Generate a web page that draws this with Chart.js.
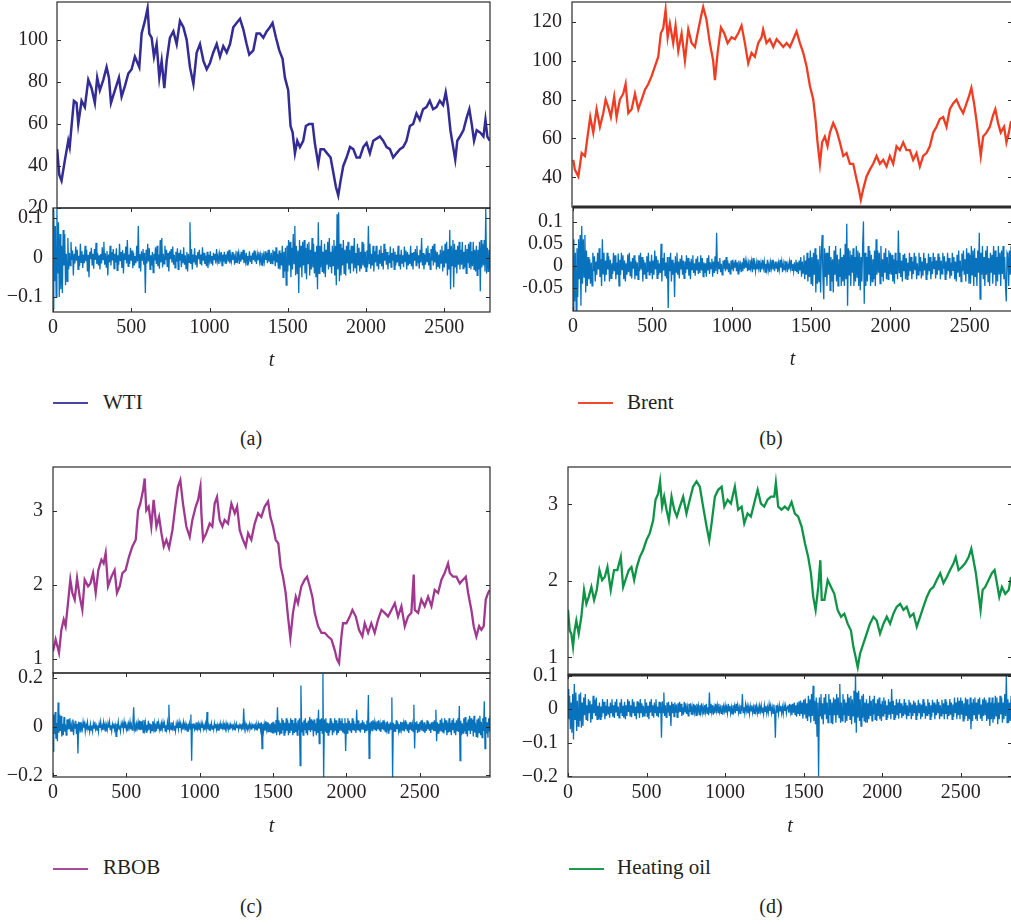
<!DOCTYPE html>
<html><head><meta charset="utf-8">
<script src="https://cdn.jsdelivr.net/npm/chart.js@4.4.1/dist/chart.umd.min.js"></script>
<style>
html,body{margin:0;padding:0;background:#fff;width:1011px;height:924px;overflow:hidden;position:relative;}
canvas{position:absolute;left:0;top:0;}
.lt{position:absolute;font-family:"Liberation Serif","Times New Roman",Tinos,"DejaVu Serif",serif;font-size:21px;line-height:21px;color:#231f20;white-space:nowrap;}
.ll{position:absolute;width:35px;height:2px;}
.cap{position:absolute;width:60px;text-align:center;font-family:"Liberation Serif","Times New Roman",Tinos,"DejaVu Serif",serif;font-size:20px;line-height:20px;color:#231f20;}
</style></head><body>
<div class="ll" style="left:53px;top:402px;background:#4b43a8"></div><div class="lt" style="left:103px;top:392px">WTI</div>
<div class="ll" style="left:578px;top:402px;background:#ef4a30"></div><div class="lt" style="left:627px;top:392px">Brent</div>
<div class="ll" style="left:53px;top:868px;background:#a64a9c"></div><div class="lt" style="left:103px;top:857px">RBOB</div>
<div class="ll" style="left:569px;top:868px;background:#1c9a50"></div><div class="lt" style="left:617px;top:857px">Heating oil</div>
<div class="cap" style="left:221px;top:428px">(a)</div>
<div class="cap" style="left:741px;top:428px">(b)</div>
<div class="cap" style="left:221px;top:896px">(c)</div>
<div class="cap" style="left:741px;top:896px">(d)</div>
<script>
// ---------------- DATA ----------------
const RET_STEP = 5; // t spacing of the return samples (first sample at t = 0)
const xTicks = [0, 500, 1000, 1500, 2000, 2500];

// WTI price
const wtiT = [25,38,53,75,96,105,117,132,149,160,181,202,224,245,266,281,298,320,341,356,369,394,420,437,458,480,501,522,550,565,586,603,614,629,644,661,678,693,710,725,746,768,789,810,832,853,874,896,917,938,960,981,1002,1023,1045,1066,1087,1109,1130,1151,1172,1194,1215,1236,1253,1279,1300,1321,1343,1364,1385,1402,1424,1445,1466,1481,1502,1517,1530,1545,1560,1577,1598,1615,1636,1658,1672,1694,1709,1730,1751,1773,1790,1807,1822,1837,1854,1875,1897,1918,1939,1960,1982,2003,2024,2046,2067,2088,2109,2131,2152,2173,2194,2216,2237,2258,2280,2301,2322,2343,2364,2386,2407,2428,2450,2471,2492,2509,2524,2539,2552,2570,2583,2600,2622,2643,2660,2675,2690,2707,2728,2750,2763,2775,2790];
const wtiP = [48,36,33,43,52,49,59,71,70,60,71,68,81,77,70,82,76,81,87,82,70,76,82,73,78,84,86,92,87,103,109,115,103,101,92,98,82,90,77,90,101,104,98,109,106,100,87,79,94,98,90,86,89,94,98,92,97,94,98,106,108,110,105,98,93,95,103,103,101,104,106,108,101,95,91,82,76,59,56,46,52,49,52,59,60,60,51,41,48,48,46,44,37,30,26,33,40,44,49,48,44,44,49,51,46,52,53,54,52,49,48,44,46,48,49,52,59,60,65,62,67,68,71,67,68,71,69,75,68,57,51,43,52,54,57,63,67,60,52,57,56,54,62,54,52];
const wtiTicks = [20, 40, 60, 80, 100];

// Brent price
const brentT = [0,10,32,53,74,90,107,126,147,168,189,204,221,237,258,273,294,315,330,347,368,389,410,431,452,473,494,515,536,552,567,582,595,609,630,645,662,683,704,725,746,767,784,805,819,840,861,882,893,910,931,952,973,998,1019,1040,1061,1082,1103,1124,1145,1166,1187,1197,1218,1239,1261,1282,1303,1324,1345,1366,1387,1408,1429,1450,1471,1492,1513,1527,1540,1555,1569,1586,1603,1618,1639,1660,1681,1702,1723,1744,1765,1786,1800,1813,1828,1849,1870,1891,1912,1933,1954,1975,1996,2017,2038,2059,2080,2101,2122,2143,2164,2185,2206,2227,2248,2269,2290,2311,2332,2353,2374,2395,2416,2437,2458,2479,2496,2510,2527,2544,2557,2569,2584,2605,2626,2647,2661,2678,2695,2716,2731,2746,2760];
const brentP = [49,44,40.5,52.5,51,61,71,63,75,66,73,80,76,71,81.5,71,80,83,88,73,75,83,75,80,85,88,92,97,102,114,116.5,126,112,119,109,118,105,114,100,116,109,107,114,122.5,127.5,121,109,100,90,104,117,114,109,112,111,114,118,109,98.6,104,102,109,112,116,109,111,107,111,109,107,109,107,111,115,109,104,97,87,80,70,58,47,58,61,56,63,68,64,58,51,52.5,47,47,39,34,28.5,34,40.5,44,47,51,47,49,45.6,51,47,56,54,58,54,54,49,52.5,45.6,51,52.5,56,63,66,70,71,66,75,78,80,76,73,78,82,86,78,68,59,51,61,63,66,72,75,68,63,66,58,63,69];
const brentTicks = [40, 60, 80, 100, 120];

// RBOB price
const rbobT = [0,18,41,57,73,86,102,118,132,148,164,182,200,216,239,255,273,291,309,330,345,359,375,398,420,436,455,473,495,518,541,564,580,595,614,625,636,652,670,686,705,723,739,755,773,791,814,836,852,868,886,909,932,950,973,989,1005,1012,1023,1045,1068,1086,1102,1118,1136,1155,1170,1193,1216,1239,1255,1273,1295,1314,1330,1352,1375,1398,1420,1443,1466,1482,1500,1518,1536,1552,1568,1586,1602,1618,1636,1655,1670,1693,1716,1732,1750,1768,1784,1807,1830,1852,1875,1898,1920,1936,1950,1966,1977,2000,2023,2041,2064,2086,2109,2125,2148,2170,2193,2216,2239,2261,2284,2307,2330,2352,2375,2398,2420,2443,2459,2466,2489,2511,2534,2557,2580,2602,2625,2648,2670,2693,2705,2727,2750,2773,2795,2814,2830,2852,2868,2886,2905,2920,2936,2950,2966,2977];
const rbobP = [1.1,1.26,1.08,1.39,1.53,1.44,1.75,2.07,1.89,1.8,2.09,1.84,1.66,2.07,1.98,2.02,2.16,1.89,2.2,2.34,2.29,2.43,1.98,2.11,2.2,1.89,1.98,2.16,2.2,2.38,2.52,2.61,3.01,3.1,3.28,3.44,3.01,3.06,2.79,3.15,2.79,2.92,2.7,2.52,2.61,2.5,2.74,3.1,3.33,3.42,3.1,2.79,2.65,2.88,3.06,3.15,3.33,2.95,2.61,2.7,2.83,2.79,3.1,3.19,2.88,2.79,2.88,2.83,3.1,2.97,3.06,2.74,2.61,2.52,2.7,2.61,2.83,2.97,2.92,3.06,3.13,2.92,2.79,2.61,2.56,2.25,2.11,1.89,1.57,1.28,1.62,1.84,1.75,1.98,2.07,2.11,1.98,1.84,1.62,1.44,1.35,1.35,1.3,1.26,1.12,0.99,0.94,1.3,1.48,1.48,1.57,1.66,1.57,1.39,1.3,1.48,1.35,1.48,1.35,1.53,1.66,1.62,1.57,1.66,1.75,1.57,1.71,1.44,1.57,1.62,2.14,1.66,1.62,1.8,1.71,1.84,1.71,1.93,1.89,2.07,2.16,2.29,2.16,2.11,2.11,2.02,2.07,2.11,1.89,1.66,1.44,1.3,1.44,1.39,1.44,1.8,1.89,1.93];
const rbobTicks = [1, 2, 3];

// Heating oil price
const heatT = [0,11,21,32,42,53,68,85,102,117,132,149,166,183,200,217,234,251,272,293,314,336,351,372,387,404,421,438,457,478,499,520,542,557,574,586,599,612,627,642,659,676,693,712,733,754,775,796,818,839,860,882,899,914,935,956,978,995,1016,1037,1062,1083,1105,1122,1143,1164,1185,1207,1228,1249,1270,1292,1313,1323,1338,1359,1380,1401,1423,1444,1465,1487,1508,1529,1546,1561,1576,1593,1606,1615,1632,1653,1674,1695,1716,1738,1759,1780,1801,1816,1831,1844,1859,1880,1901,1922,1944,1965,1986,2008,2029,2050,2071,2092,2114,2135,2156,2177,2199,2220,2241,2262,2284,2305,2326,2347,2369,2390,2411,2432,2454,2468,2486,2507,2528,2550,2567,2581,2596,2613,2626,2639,2656,2677,2698,2715,2730,2745,2762,2783,2805,2820];
const heatP = [1.62,1.35,1.31,1.14,1.35,1.48,1.31,1.53,1.88,1.7,1.79,1.92,1.75,1.88,2.14,2.01,2.05,2.18,1.88,2.14,2.14,2.31,1.92,2.05,2.14,2.18,2.01,2.18,2.31,2.4,2.53,2.62,2.79,3.06,3.14,3.3,2.97,3.1,2.93,2.79,3.1,2.93,2.84,2.97,3.1,2.88,3.06,3.23,3.3,3.23,2.97,2.71,2.53,2.75,3.1,3.19,3.23,2.97,3.06,3.01,3.23,2.93,2.97,2.75,2.88,2.84,3.01,3.19,3.01,2.97,3.06,3.1,3.1,3.28,2.97,2.93,2.97,2.93,3.03,2.88,2.84,2.71,2.49,2.31,2.1,1.79,1.62,1.92,2.27,1.75,1.75,2.01,1.92,1.83,1.62,1.53,1.57,1.44,1.35,1.14,1.0,0.87,1.05,1.18,1.31,1.44,1.53,1.48,1.31,1.44,1.53,1.44,1.57,1.66,1.7,1.62,1.66,1.53,1.57,1.4,1.53,1.66,1.79,1.88,1.92,2.01,2.1,1.97,2.05,2.14,2.23,2.31,2.14,2.18,2.23,2.31,2.42,2.27,2.1,1.83,1.62,1.88,1.92,2.01,2.1,2.14,1.97,1.79,1.92,1.83,1.88,2.05];
const heatTicks = [1, 2, 3];

// Returns, one row per 100 of t
const wtiR = [
-.13,.12,-.06,.08,-.1,.125,-.04,.09,-.1,.06,-.08,.03,-.09,.07,-.02,.06,-.07,.01,-.06,.05,
-.03,.012,-.02,.04,-.006,.018,-.045,.01,-.015,.028,-.008,.02,-.03,.005,-.022,.035,-.012,.016,-.026,.008,
-.014,.03,-.009,.02,-.035,.007,-.05,.015,-.004,.025,-.018,.01,-.028,.022,-.006,.038,-.016,.012,-.02,.006,
-.03,.009,-.015,.026,-.005,.04,-.018,.011,-.024,.017,-.045,.008,-.012,.03,-.02,.014,-.007,.022,-.028,.01,
-.012,.024,-.032,.006,-.018,.035,-.009,.014,-.026,.019,-.04,.011,-.006,.028,-.015,.045,-.022,.008,-.016,.025,
-.008,.018,-.027,.012,-.02,.004,-.014,.03,-.01,.08,-.025,.009,-.035,.016,-.006,.022,-.018,.012,-.09,.02,
-.015,.035,-.01,.024,-.03,.006,-.02,.014,-.038,.01,-.007,.026,-.016,.03,-.022,.008,-.028,.045,-.012,.05,
-.025,.01,-.016,.03,-.006,.02,-.024,.012,-.035,.016,-.004,.022,-.012,.028,-.018,.007,-.026,.015,-.01,.024,
-.03,.012,-.008,.02,-.024,.009,-.014,.026,-.018,.006,-.028,.014,-.035,.01,-.012,.09,-.016,.022,-.03,.008,
-.012,.024,-.018,.006,-.025,.014,-.004,.02,-.015,.008,-.02,.026,-.008,.012,-.016,.005,-.022,.015,-.026,.007,
-.008,.016,-.014,.004,-.02,.012,-.005,.01,-.015,.022,-.009,.005,-.016,.01,-.004,.014,-.02,.008,-.01,.015,
-.014,.008,-.005,.016,-.01,.02,-.015,.004,-.009,.014,-.006,.01,-.018,.005,-.012,.016,-.004,.011,-.016,.006,
-.01,.015,-.005,.02,-.014,.006,-.01,.012,-.018,.004,-.007,.016,-.01,.005,-.016,.012,-.006,.018,-.01,.004,
-.016,.01,-.005,.015,-.01,.006,-.018,.012,-.022,.005,-.01,.016,-.006,.012,-.014,.02,-.01,.006,-.016,.012,
-.015,.02,-.008,.016,-.022,.026,-.012,.01,-.028,.018,-.03,.012,-.02,.03,-.05,.015,-.035,.025,-.07,.03,
-.035,.045,-.02,.04,-.05,.025,-.03,.06,-.015,.08,-.045,.03,-.04,.018,-.09,.045,-.025,.03,-.05,.04,
-.02,.045,-.04,.025,-.055,.035,-.015,.04,-.045,.02,-.03,.05,-.025,.035,-.04,.015,-.05,.03,-.08,.09,
-.04,.03,-.025,.045,-.035,.015,-.04,.035,-.05,.02,-.018,.04,-.03,.05,-.022,.015,-.04,.03,-.02,.045,
-.045,.03,-.07,.11,-.03,.115,-.06,.035,-.045,.025,-.02,.045,-.04,.02,-.045,.03,-.015,.04,-.03,.02,
-.04,.03,-.015,.03,-.035,.05,-.025,.012,-.04,.035,-.018,.025,-.035,.015,-.028,.04,-.02,.035,-.025,.015,
-.035,.018,-.025,.08,-.015,.035,-.028,.01,-.02,.03,-.035,.016,-.012,.03,-.022,.008,-.03,.02,-.014,.03,
-.022,.012,-.03,.035,-.008,.022,-.018,.014,-.03,.006,-.014,.028,-.024,.012,-.008,.024,-.03,.015,-.02,.008,
-.012,.03,-.022,.008,-.03,.02,-.014,.006,-.024,.028,-.01,.018,-.03,.014,-.02,.008,-.016,.03,-.022,.012,
-.03,.014,-.008,.022,-.02,.03,-.014,.006,-.028,.02,-.012,.05,-.02,.012,-.03,.008,-.018,.024,-.01,.03,
-.02,.012,-.03,.022,-.008,.03,-.02,.035,-.012,.018,-.03,.014,-.022,.008,-.028,.02,-.014,.03,-.035,.018,
-.025,.035,-.015,.04,-.045,.022,-.03,.07,-.08,.03,-.02,.045,-.075,.035,-.025,.02,-.04,.03,-.018,.04,
-.03,.02,-.018,.04,-.028,.015,-.025,.032,-.04,.022,-.014,.035,-.026,.04,-.03,.016,-.022,.04,-.03,.02,
-.035,.03,-.045,.02,-.03,.04,-.085,.045,-.025,.035,-.02,.045,-.035,.125,-.04,.025,-.035,.02,-.03,.04];
const wtiRTicks = [-0.1, 0, 0.1];

const brentR = [
-.1,.06,-.08,.03,-.1,.04,-.07,.06,-.03,.07,-.09,.09,-.04,.06,-.025,.07,-.06,.035,-.045,.02,
-.03,.015,-.04,.008,-.045,.03,-.012,.022,-.035,.01,-.02,.03,-.008,.04,-.025,.015,-.045,.06,-.018,.03,
-.035,.012,-.02,.03,-.008,.022,-.035,.014,-.028,.006,-.018,.03,-.012,.024,-.03,.008,-.02,.028,-.045,.014,
-.02,.03,-.008,.024,-.03,.012,-.035,.006,-.02,.026,-.014,.03,-.022,.01,-.028,.018,-.006,.024,-.03,.012,
-.022,.008,-.03,.024,-.012,.03,-.008,.02,-.035,.014,-.02,.008,-.028,.022,-.014,.03,-.02,.01,-.016,.025,
-.03,.012,-.02,.035,-.008,.022,-.028,.014,-.02,.006,-.016,.05,-.035,.018,-.01,.03,-.022,.008,-.028,.02,
-.095,.02,-.012,.03,-.035,.014,-.02,.008,-.07,.022,-.014,.03,-.02,.01,-.028,.016,-.008,.024,-.02,.012,
-.028,.01,-.016,.024,-.008,.018,-.022,.01,-.03,.016,-.008,.024,-.016,.006,-.022,.016,-.01,.022,-.018,.008,
-.016,.024,-.01,.018,-.024,.008,-.016,.006,-.024,.018,-.01,.024,-.018,.008,-.006,.016,-.024,.01,-.016,.022,
-.012,.075,-.018,.01,-.006,.018,-.014,.005,-.02,.012,-.006,.014,-.012,.02,-.008,.012,-.014,.006,-.018,.012,
-.008,.014,-.012,.006,-.004,.014,-.012,.008,-.018,.012,-.006,.004,-.014,.008,-.012,.018,-.006,.012,-.004,.01,
-.012,.006,-.008,.014,-.004,.01,-.014,.018,-.008,.004,-.012,.008,-.006,.014,-.004,.012,-.014,.006,-.008,.014,
-.004,.01,-.014,.005,-.008,.014,-.01,.004,-.014,.008,-.005,.014,-.008,.004,-.012,.01,-.005,.01,-.014,.006,
-.008,.014,-.004,.01,-.014,.005,-.008,.012,-.005,.01,-.014,.004,-.008,.01,-.005,.014,-.01,.004,-.012,.008,
-.01,.014,-.014,.008,-.018,.012,-.01,.02,-.024,.01,-.016,.024,-.03,.012,-.02,.03,-.035,.018,-.025,.035,
-.04,.02,-.045,.03,-.02,.04,-.06,.025,-.04,.015,-.035,.045,-.06,.03,.07,-.03,-.075,.04,-.025,.03,
-.045,.03,-.02,.045,-.055,.02,-.035,.015,-.06,.035,-.02,.045,-.035,.025,-.045,.015,-.025,.04,-.045,.02,
-.035,.025,-.045,.05,-.03,.095,-.09,.04,-.02,.035,-.045,.025,-.015,.04,-.045,.02,-.035,.045,-.025,.035,
-.045,.03,-.055,.02,-.035,.045,.1,-.085,.03,-.045,.02,-.035,.045,-.02,.035,-.045,.025,-.035,.015,-.03,
.035,-.045,.06,-.02,.035,-.015,.03,-.04,.045,-.025,.015,-.035,.03,-.015,.04,-.03,.02,-.03,.035,-.018,
.03,-.02,.025,-.035,.015,-.04,.03,-.018,.012,-.03,.08,-.015,.03,-.025,.012,-.035,.025,-.012,.028,-.03,
.018,-.03,.008,-.022,.03,-.012,.02,-.03,.01,-.018,.03,-.008,.022,-.03,.006,-.02,.03,-.012,.02,-.028,
.01,-.022,.03,-.01,.018,-.03,.006,-.02,.028,-.012,.02,-.03,.01,-.018,.03,-.006,.02,-.028,.012,-.02,
.028,-.01,.02,-.03,.012,-.018,.03,-.006,.022,-.03,.01,-.02,.03,-.012,.018,-.028,.008,-.022,.03,-.01,
.02,-.03,.01,-.035,.025,-.015,.035,-.025,.012,-.035,.028,-.012,.035,-.02,.015,-.035,.04,-.018,.03,-.04,
.025,-.04,.045,-.02,.035,-.045,.04,-.025,.018,-.045,.035,-.015,.075,-.075,.03,-.02,.045,-.03,.02,-.045,
.035,-.02,.045,-.035,.018,-.045,.03,-.015,.025,-.04,.045,-.02,.035,-.045,.02,-.035,.045,-.018,.03,-.045,
.035,-.018,.045,-.03,.02,-.045,-.08,.03,.025,-.045,.035,-.02,.045,-.03];
const brentRTicks = [-0.05, 0, 0.05, 0.1];

const rbobR = [
-.1,.05,-.03,.06,-.05,.015,-.06,.1,-.025,.05,-.018,.045,-.04,.012,-.035,.04,-.02,.01,-.035,.03,
-.012,.03,-.008,.035,-.02,.006,-.018,.03,-.035,.01,-.006,.024,-.03,.012,-.11,.02,-.008,.018,-.024,.006,
-.01,.02,-.004,.012,-.02,.008,-.005,.018,-.012,.004,-.02,.01,-.014,.005,-.018,.012,-.006,.02,-.01,.004,
-.014,.006,-.02,.012,-.005,.02,-.01,.004,-.014,.018,-.006,.01,-.02,.005,-.012,.014,-.004,.02,-.012,.006,
-.018,.01,-.005,.014,-.012,.004,-.04,.012,-.006,.02,-.01,.005,-.018,.012,-.004,.014,-.012,.02,-.006,.01,
-.012,.006,-.018,.012,-.004,.02,-.01,.005,-.014,.018,.08,-.01,.006,-.02,.012,-.005,.018,-.012,.025,-.014,
.022,-.012,.01,-.024,.028,-.008,.016,-.022,.008,-.018,.024,-.01,.014,-.028,.01,-.016,.022,-.008,.015,-.024,
.01,-.018,.022,-.008,.016,-.012,.005,-.018,.012,-.008,.018,-.005,.012,-.018,.006,-.012,.018,-.01,.09,-.01,
.006,-.012,.018,-.005,.012,-.014,.004,-.018,.012,-.006,.014,-.01,.018,-.005,.012,-.014,.006,-.012,.018,-.004,
.012,-.014,.005,-.018,.012,-.006,.014,-.01,.05,-.14,.012,-.005,.014,-.01,.006,-.012,.018,-.006,.012,-.014,
.006,-.012,.014,-.005,.012,-.01,.004,-.014,.012,-.006,.06,-.01,.005,-.014,.012,-.006,.014,-.01,.005,-.012,
.014,-.005,.012,-.012,.006,-.014,.012,-.004,.014,-.01,.005,-.006,.014,-.012,.006,-.01,.014,-.005,.008,-.012,
.006,-.012,.008,-.005,.012,-.008,.004,-.012,.008,-.006,.012,-.004,.008,-.012,.006,-.006,.012,-.008,.004,-.012,
.075,-.006,.012,-.008,.006,-.012,.004,-.008,.012,-.006,.008,-.012,.006,-.004,.012,-.008,.006,-.012,.008,-.006,
.012,-.006,.014,-.012,.018,-.09,.012,-.018,.01,-.016,.022,-.01,.018,-.024,.014,-.022,.01,-.024,.016,-.028,
.02,-.028,.012,-.022,.028,-.035,.08,-.018,.026,-.035,.016,-.026,.035,-.014,.026,-.035,.016,-.026,.035,-.016,
.026,-.035,.014,-.026,.035,-.016,.028,-.035,.014,-.026,.035,-.022,.016,-.035,.026,-.014,.035,-.16,.17,-.024,
.018,-.035,.026,-.014,.035,-.024,.016,-.035,.024,-.014,.04,-.022,.03,-.014,.024,-.04,.03,-.018,.014,-.035,
.035,-.026,.07,-.07,.03,-.018,.035,-.026,.22,-.21,.03,-.018,.035,-.026,.016,-.035,.014,-.024,.035,-.014,
.024,-.035,.014,-.024,.035,-.016,.026,-.035,.014,-.026,.035,-.016,.024,-.014,.035,-.024,.014,-.026,.035,-.1,
.016,-.026,.035,-.014,.024,-.016,.014,-.026,.035,-.014,.024,-.016,.012,-.026,.07,-.014,.026,-.016,.012,-.024,
.016,-.012,.026,-.01,.018,-.026,.01,-.016,.026,-.012,.13,-.13,.016,-.01,.022,-.016,.026,-.01,.018,-.014,
.01,-.018,.022,-.01,.026,-.016,.01,-.022,.018,-.01,.026,-.014,.01,-.02,.018,-.01,.022,-.026,.012,-.016,
.018,-.01,.12,-.21,.016,-.018,.01,-.022,.026,-.01,.018,-.016,.01,-.026,.02,-.01,.018,-.016,.012,-.02,
.026,-.01,.018,-.016,.01,-.026,.018,-.01,.02,-.016,.01,-.02,.09,-.09,.018,-.01,.022,-.026,.012,-.018,
.018,-.012,.026,-.016,.01,-.02,.018,-.026,.01,-.018,.026,-.01,.02,-.016,.012,-.026,.018,-.01,.02,-.018,
.026,-.016,.07,-.06,.018,-.026,.012,-.02,.028,-.016,.035,-.024,.016,-.028,.035,-.014,.026,-.035,.016,-.024,
.035,-.022,.016,-.035,.026,-.014,.035,-.024,.016,-.035,.026,-.016,.035,-.022,.085,-.14,.024,-.035,.014,-.026,
.035,-.02,.04,-.03,.018,-.04,.03,-.016,.045,-.03,.035,-.016,.028,-.04,.045,-.024,.016,-.04,.03,-.045,
.035,-.024,.045,-.035,.02,-.045,.035,-.018,.105,-.09,.04,-.028,.018,-.045,.035,-.02,.045,-.035,.024,-.035];
const rbobRTicks = [-0.2, 0, 0.2];

const heatR = [
.06,-.03,.04,-.06,.02,-.07,.045,-.09,.075,-.03,.05,-.065,.025,-.05,.045,-.035,.05,-.055,.02,-.05,
.035,-.018,.045,-.03,.012,-.035,.03,-.01,.025,-.04,.015,-.03,.04,-.012,.028,-.02,.035,-.03,.01,-.03,
.02,-.03,.008,-.024,.03,-.012,.022,-.03,.01,-.02,.03,-.014,.008,-.025,.02,-.01,.03,-.022,.012,-.026,
.022,-.01,.03,-.02,.008,-.026,.02,-.012,.03,-.018,.01,-.025,.022,-.03,.012,-.02,.03,-.008,.024,-.02,
.012,-.024,.03,-.01,.022,-.02,.008,-.03,.024,-.012,.02,-.026,.03,-.01,.018,-.024,.01,-.02,.03,-.012,
.02,-.024,.01,-.03,.022,-.01,.03,-.018,.012,-.025,.02,-.01,.03,-.02,.008,-.024,.022,-.012,.02,-.085,
.024,-.01,.05,-.02,.012,-.024,.02,-.01,.022,-.02,.012,-.05,.022,-.012,.016,-.022,.02,-.01,.014,-.024,
.018,-.01,.022,-.008,.016,-.02,.006,-.016,.022,-.008,.018,-.014,.006,-.02,.016,-.008,.018,-.016,.006,-.018,
.016,-.008,.012,-.018,.016,-.006,.01,-.016,.012,-.008,.018,-.01,.006,-.016,.012,-.008,.016,-.012,.006,-.018,
.05,-.01,.016,-.008,.012,-.016,.006,-.012,.016,-.005,.012,-.01,.016,-.008,.005,-.012,.012,-.016,.008,-.006,
.012,-.01,.005,-.012,.016,-.005,.01,-.012,.006,-.014,.012,-.006,.01,-.012,.016,-.005,.012,-.01,.006,-.012,
.012,-.006,.045,-.01,.006,-.012,.014,-.005,.01,-.012,.006,-.014,.01,-.005,.012,-.01,.006,-.012,.014,-.006,
.01,-.012,.005,-.014,.01,-.006,.012,-.01,.005,-.014,.012,-.006,.01,-.012,.006,-.01,.014,-.005,.01,-.012,
.006,-.012,.014,-.005,-.085,.012,-.01,.006,-.014,.012,-.005,.01,-.012,.006,-.014,.012,-.005,.01,-.012,.006,
.012,-.01,.016,-.008,.014,-.018,.016,-.01,.02,-.016,.012,-.022,.02,-.012,.024,-.02,.026,-.014,.02,-.028,
.028,-.016,.032,-.026,.018,-.035,.04,-.02,.03,-.04,.045,-.02,.07,-.035,.025,-.045,.035,-.08,.02,-.2,
.035,-.02,.045,-.03,.018,-.045,.035,-.016,.045,-.03,.02,-.04,.045,-.018,.03,-.04,.02,-.045,.035,-.018,
.03,-.04,.045,-.018,.035,-.025,.075,-.04,.02,-.035,.045,-.018,.03,-.04,.02,-.035,.045,-.02,.035,-.03,
.04,-.045,.03,-.02,.055,-.04,.1,-.07,.05,-.025,.055,-.035,.03,-.05,.04,-.025,.045,-.035,.02,-.04,
.03,-.04,.018,-.03,.04,-.02,.025,-.035,.03,-.016,.04,-.03,.018,-.035,.03,-.02,.035,-.03,.016,-.035,
.025,-.02,.035,-.014,.026,-.03,.012,-.025,.03,-.016,.022,-.03,.06,-.014,.025,-.03,.012,-.026,.03,-.016,
.02,-.028,.03,-.012,.018,-.026,.01,-.02,.03,-.014,.02,-.03,.012,-.018,.028,-.01,.02,-.03,.014,-.02,
.026,-.012,.02,-.03,.012,-.02,.028,-.01,.018,-.03,.014,-.022,.03,-.012,.02,-.028,.01,-.018,.03,-.014,
.02,-.03,.012,-.022,.028,-.01,.02,-.03,.014,-.018,.03,-.01,.022,-.03,.012,-.02,.028,-.014,.018,-.03,
.03,-.014,.022,-.03,.012,-.02,.03,-.016,.02,-.03,.014,-.022,.035,-.012,.02,-.03,.035,-.018,.025,-.03,
.035,-.016,.025,-.035,.018,-.03,.035,-.02,.03,-.035,.014,-.03,.035,-.06,.02,-.035,.03,-.016,.035,-.03,
.02,-.035,.03,-.016,.035,-.028,.014,-.035,.03,-.02,.035,-.016,.028,-.035,.02,-.03,.035,-.05,.02,-.03,
.035,-.04,.018,-.03,.04,-.02,.035,-.045,.02,-.03,.04,-.016,.035,-.04,.02,-.03,.045,-.02,.1,-.04,
.03,-.04,.02,-.035,.04,-.02];
const heatRTicks = [-0.2, -0.1, 0, 0.1];

// ---------------- DRAWING ----------------
const CW = 1020, CH = 924, YW = 50;
const FONT = '"Liberation Serif", "Times New Roman", Tinos, "DejaVu Serif", serif';
const TXT = '#231f20';
const RET_COLOR = '#0872bd';

const framePlugin = {
  id: 'frame',
  afterDraw(chart, args, o) {
    const {ctx, chartArea: a, scales} = chart;
    ctx.save();
    ctx.strokeStyle = '#2b2b2b';
    ctx.lineWidth = o.lw;
    ctx.strokeRect(a.left, a.top, a.right - a.left, a.bottom - a.top);
    if (o.topLw) {
      ctx.lineWidth = o.topLw;
      ctx.beginPath(); ctx.moveTo(a.left, a.top); ctx.lineTo(a.right, a.top); ctx.stroke();
    }
    ctx.lineWidth = 1;
    ctx.beginPath();
    scales.y.ticks.forEach(t => {
      const p = Math.round(scales.y.getPixelForValue(t.value)) + 0.5;
      ctx.moveTo(a.left, p); ctx.lineTo(a.left + 4, p);
      ctx.moveTo(a.right, p); ctx.lineTo(a.right - 4, p);
    });
    if (o.xTicks) {
      scales.x.ticks.forEach(t => {
        const p = Math.round(scales.x.getPixelForValue(t.value)) + 0.5;
        ctx.moveTo(p, a.bottom); ctx.lineTo(p, a.bottom - 4);
        ctx.moveTo(p, a.top); ctx.lineTo(p, a.top + 4);
      });
    }
    ctx.stroke();
    ctx.restore();
  }
};

function fmt(v) {
  return (v < 0 ? '\u2212' : '') + String(Math.abs(v));
}

function makeChart(s) {
  const cv = document.createElement('canvas');
  cv.width = CW; cv.height = CH;
  document.body.appendChild(cv);
  const XH = s.showX ? s.xh : 0;
  new Chart(cv, {
    type: 'line',
    data: { datasets: [{ label: s.label, data: s.data, borderColor: s.color, borderWidth: s.lw,
      pointRadius: 0, tension: 0, fill: false }] },
    options: {
      responsive: false, animation: false, devicePixelRatio: 1, events: [],
      layout: { padding: { left: s.L - YW, right: CW - s.R, top: s.T, bottom: CH - s.B - XH } },
      plugins: { legend: { display: false }, tooltip: { enabled: false },
        frame: { lw: s.frameLw || 1.2, topLw: s.topLw, xTicks: s.showX } },
      scales: {
        x: { type: 'linear', min: s.xmin, max: s.xmax, display: s.showX,
          grid: { display: false, drawTicks: false }, border: { display: false },
          ticks: { font: { family: FONT, size: 20 }, color: TXT, padding: 4, maxRotation: 0, autoSkip: false,
            callback: v => String(v) },
          afterBuildTicks: sc => { sc.ticks = xTicks.map(v => ({ value: v })); },
          afterFit: sc => { sc.height = XH; sc.paddingLeft = 0; sc.paddingRight = 0; },
          title: { display: true, text: 't', color: TXT, padding: 0,
            font: { family: FONT, size: 20, style: 'italic', lineHeight: 1.2 } } },
        y: { min: s.ymin, max: s.ymax,
          grid: { display: false, drawTicks: false }, border: { display: false },
          ticks: { font: { family: FONT, size: 20 }, color: TXT, padding: s.lp || 10, callback: v => fmt(v) },
          afterBuildTicks: sc => { sc.ticks = s.yTicks.map(v => ({ value: v })); },
          afterFit: sc => { sc.width = YW; sc.paddingTop = 0; sc.paddingBottom = 0; } }
      }
    },
    plugins: [framePlugin]
  });
}

const pts = (T, V) => T.map((t, i) => ({ x: t, y: V[i] }));
const rets = R => R.map((v, i) => ({ x: i * RET_STEP, y: v }));

// (a)
makeChart({ label: 'WTI', data: pts(wtiT, wtiP), color: '#332c94', lw: 2.5, L: 57, R: 490, T: 2, B: 208,
  xmin: 24, xmax: 2792, ymin: 20, ymax: 118, yTicks: wtiTicks, showX: false, lp: 9 });
makeChart({ label: 'WTI return', data: rets(wtiR), color: RET_COLOR, lw: 1.3, L: 53, R: 490, T: 208, B: 312,
  xmin: 0, xmax: 2792, ymin: -0.138, ymax: 0.126, yTicks: wtiRTicks, showX: true, xh: 61 });
// (b)
makeChart({ label: 'Brent', data: pts(brentT, brentP), color: '#ee3d23', lw: 2.3, L: 572, R: 1012, T: 2, B: 207,
  xmin: -8, xmax: 2766, ymin: 24.8, ymax: 130.1, yTicks: brentTicks, showX: false });
makeChart({ label: 'Brent return', data: rets(brentR), color: RET_COLOR, lw: 1.3, L: 573, R: 1012, T: 207, B: 311,
  xmin: 0, xmax: 2766, ymin: -0.1016, ymax: 0.133, yTicks: brentRTicks, showX: true, xh: 61, topLw: 3 });
// (c)
makeChart({ label: 'RBOB', data: pts(rbobT, rbobP), color: '#a0388f', lw: 2.3, L: 53, R: 490, T: 467, B: 673,
  xmin: 0, xmax: 2979, ymin: 0.806, ymax: 3.596, yTicks: rbobTicks, showX: false });
makeChart({ label: 'RBOB return', data: rets(rbobR), color: RET_COLOR, lw: 1.3, L: 53, R: 490, T: 673, B: 777,
  xmin: 0, xmax: 2979, ymin: -0.207, ymax: 0.221, yTicks: rbobRTicks, showX: true, xh: 62 });
// (d)
makeChart({ label: 'Heating oil', data: pts(heatT, heatP), color: '#0f9447', lw: 2.3, L: 568, R: 1012, T: 467, B: 675,
  xmin: 0, xmax: 2826, ymin: 0.769, ymax: 3.488, yTicks: heatTicks, showX: false });
makeChart({ label: 'Heating oil return', data: rets(heatR), color: RET_COLOR, lw: 1.3, L: 568, R: 1012, T: 675, B: 777,
  xmin: 0, xmax: 2826, ymin: -0.202, ymax: 0.102, yTicks: heatRTicks, showX: true, xh: 62, topLw: 3 });
</script>
</body></html>
